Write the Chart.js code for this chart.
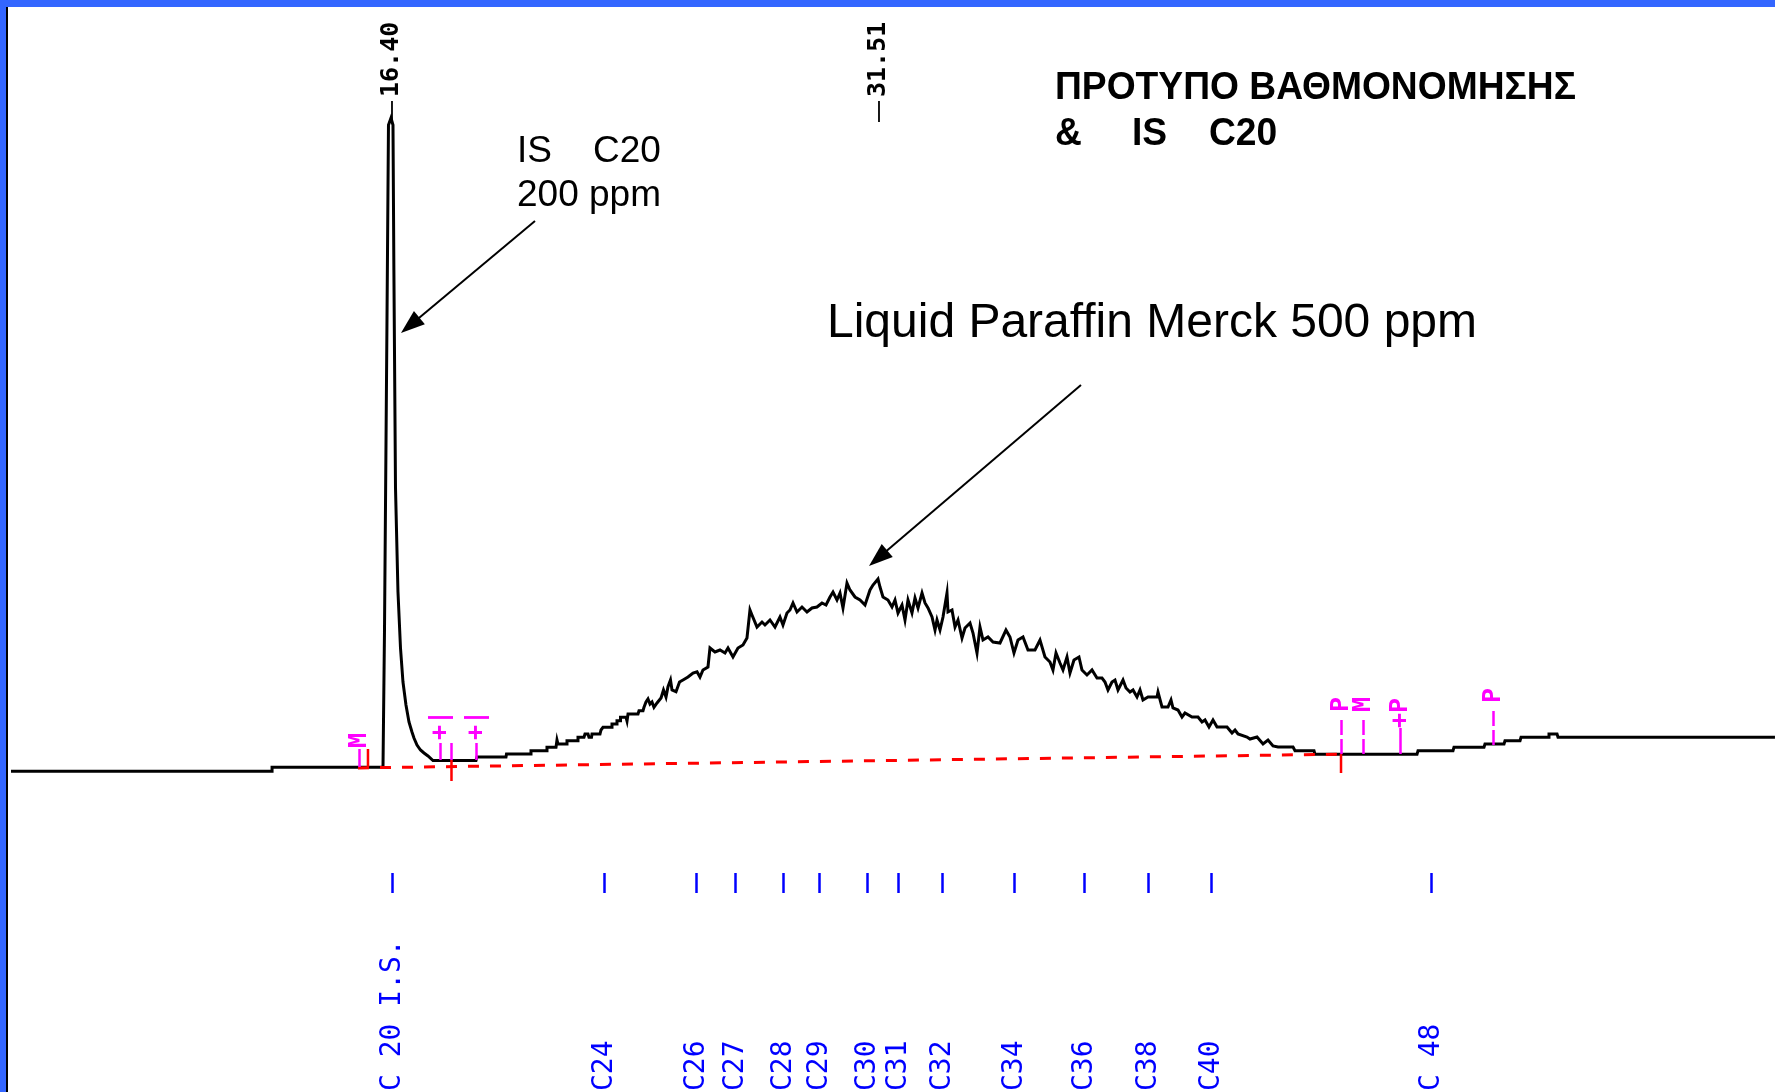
<!DOCTYPE html>
<html>
<head>
<meta charset="utf-8">
<title>Chromatogram – Liquid Paraffin Merck 500 ppm, IS C20</title>
<script src="https://cdn.jsdelivr.net/npm/chart.js@4.4.1/dist/chart.umd.min.js"></script>
<style>
  html, body { margin: 0; padding: 0; background: #ffffff; }
  #wrap { position: relative; width: 1775px; height: 1092px; overflow: hidden; background: #ffffff; }
  #wrap canvas { position: absolute; left: 0; top: 0; }
  .frame-top { position: absolute; left: 0; top: 0; width: 1775px; height: 7px; background: #3366ff; }
  .frame-left { position: absolute; left: 0; top: 0; width: 6px; height: 1092px; background: #3366ff; }
  .frame-rule { position: absolute; left: 6px; top: 7px; width: 2px; height: 1085px; background: #000000; }
</style>
</head>
<body>
<div id="wrap">
  <canvas id="chrom" width="1775" height="1092"></canvas>
  <div class="frame-top"></div>
  <div class="frame-left"></div>
  <div class="frame-rule"></div>
</div>
<script>
// ---- Detector trace (retention time in min, signal in arbitrary units) ----
const traceTime = [
  4.61, 12.71, 12.71, 16.152, 16.198, 16.276, 16.322, 16.400, 16.462, 16.490,
  16.540, 16.617, 16.695, 16.772, 16.865, 16.958, 17.051, 17.113, 17.207, 17.315,
  17.424, 17.548, 17.703, 19.037, 19.068, 19.968, 19.984, 20.728, 20.744, 21.225,
  21.240, 21.520, 21.551, 21.582, 21.845, 21.861, 22.187, 22.202, 22.388, 22.419,
  22.512, 22.543, 22.621, 22.637, 22.885, 22.916, 22.978, 23.242, 23.257, 23.397,
  23.412, 23.506, 23.521, 23.692, 23.723, 23.754, 24.064, 24.095, 24.219, 24.250,
  24.312, 24.374, 24.436, 24.498, 24.560, 24.654, 24.778, 24.855, 24.933, 24.995,
  25.072, 25.119, 25.243, 25.352, 25.460, 25.615, 25.771, 25.895, 25.987, 26.080,
  26.235, 26.297, 26.452, 26.608, 26.763, 26.856, 27.011, 27.166, 27.321, 27.445,
  27.538, 27.600, 27.756, 27.911, 28.004, 28.159, 28.314, 28.469, 28.562, 28.686,
  28.779, 28.873, 28.997, 29.152, 29.307, 29.462, 29.617, 29.773, 29.897, 30.021,
  30.114, 30.238, 30.331, 30.424, 30.548, 30.641, 30.797, 30.952, 31.107, 31.262,
  31.355, 31.510, 31.572, 31.665, 31.820, 31.945, 32.038, 32.131, 32.255, 32.348,
  32.441, 32.565, 32.658, 32.752, 32.876, 32.969, 33.062, 33.186, 33.279, 33.341,
  33.434, 33.527, 33.651, 33.682, 33.806, 33.900, 33.993, 34.117, 34.210, 34.365,
  34.458, 34.582, 34.675, 34.768, 34.923, 35.079, 35.295, 35.481, 35.605, 35.729,
  35.854, 36.009, 36.164, 36.381, 36.536, 36.691, 36.846, 36.939, 37.033, 37.157,
  37.250, 37.374, 37.467, 37.591, 37.746, 37.839, 37.994, 38.150, 38.305, 38.460,
  38.553, 38.646, 38.770, 38.863, 38.957, 39.112, 39.205, 39.329, 39.422, 39.546,
  39.639, 39.732, 39.887, 40.167, 40.198, 40.322, 40.508, 40.601, 40.663, 40.818,
  40.942, 41.035, 41.253, 41.439, 41.563, 41.656, 41.780, 41.904, 42.029, 42.339,
  42.494, 42.587, 42.680, 42.959, 43.052, 43.270, 43.456, 43.611, 43.766, 43.921,
  44.387, 44.449, 45.038, 45.069, 48.234, 48.265, 49.350, 49.381, 50.312, 50.343,
  50.933, 50.964, 51.430, 51.461, 52.298, 52.329, 52.578, 52.609, 59.34
];
const traceSignal = [
  -0.13, -0.13, 0.27, 0.27, 13.8, 45.0, 64.5, 65.2, 64.5, 50.0,
  28.2, 17.8, 12.2, 8.8, 6.5, 4.8, 3.8, 3.2, 2.5, 2.0,
  1.7, 1.4, 0.95, 0.95, 1.3, 1.3, 1.6, 1.6, 1.93, 1.93,
  2.27, 2.27, 3.0, 2.6, 2.6, 2.93, 2.93, 3.27, 3.27, 3.6,
  3.6, 3.27, 3.27, 3.6, 3.6, 4.0, 4.27, 4.27, 4.6, 4.6,
  4.93, 4.93, 5.27, 5.27, 4.9, 5.6, 5.6, 5.93, 5.93, 6.27,
  6.8, 7.1, 6.6, 6.8, 6.27, 6.7, 7.2, 8.0, 7.3, 8.33,
  9.0, 8.0, 7.83, 8.8, 9.0, 9.3, 9.7, 9.83, 9.3, 10.0,
  10.3, 12.2, 11.8, 12.0, 11.7, 12.2, 11.3, 12.2, 12.5, 13.2,
  16.0, 15.5, 14.3, 14.8, 14.5, 15.0, 14.3, 15.3, 14.5, 15.7,
  16.0, 16.7, 15.8, 16.3, 15.8, 16.2, 16.3, 16.7, 16.5, 17.3,
  17.8, 17.0, 17.7, 16.2, 18.7, 18.0, 17.3, 17.0, 16.5, 18.0,
  18.5, 19.1, 18.3, 17.3, 17.0, 16.3, 17.0, 15.7, 16.5, 15.0,
  17.0, 15.7, 17.2, 16.2, 17.7, 16.7, 16.2, 15.3, 14.0, 15.0,
  14.0, 15.3, 17.7, 15.8, 16.0, 14.3, 15.0, 13.2, 14.2, 14.7,
  13.7, 11.7, 14.3, 13.0, 13.3, 12.8, 12.7, 14.0, 13.3, 11.7,
  13.0, 13.3, 12.0, 12.0, 13.0, 11.3, 10.8, 10.0, 11.7, 10.7,
  10.0, 11.3, 9.7, 11.0, 11.3, 10.0, 9.5, 10.0, 9.2, 9.2,
  8.8, 8.0, 8.8, 9.0, 8.0, 9.0, 8.2, 7.8, 8.0, 7.3,
  8.0, 7.0, 7.3, 7.3, 7.8, 6.3, 6.3, 7.0, 6.2, 6.0,
  5.3, 5.7, 5.3, 5.3, 4.8, 5.0, 4.3, 5.0, 4.3, 4.3,
  3.7, 4.0, 3.6, 3.3, 3.1, 3.3, 2.6, 3.0, 2.4, 2.3,
  2.3, 1.93, 1.93, 1.57, 1.57, 1.93, 1.93, 2.27, 2.27, 2.6,
  2.6, 2.93, 2.93, 3.27, 3.27, 3.6, 3.6, 3.27, 3.27
];

// ---- Integration baseline and drop lines ----
const baselineTime = [15.376, 45.876];
const baselineSignal = [0.21, 1.58];
const dropTime = [15.686, 18.277, 45.876];
const dropTop = [2.1, 1.0, 1.6];
const dropBottom = [0.3, -1.1, -0.3];

// ---- Retention time labels ----
const rtTime = [16.40, 31.51];
const rtLabel = ['16.40', '31.51'];

// ---- Integration event codes ----
const eventTime = [15.407, 17.920, 18.277, 19.037, 45.876, 46.559, 47.706, 50.592];
const eventCode = ['M', '+|', '', '+|', 'P', 'M', '+P', 'P'];
const eventLevel = [0.3, 1.0, 1.0, 1.0, 1.6, 1.6, 1.6, 2.5];

// ---- Calibration table (n-alkanes) ----
const compoundTime = [16.44, 23.02, 25.87, 27.08, 28.57, 29.69, 31.17, 32.12, 33.51, 35.74, 37.91, 39.90, 41.83, 48.66];
const compoundName = ['C 20 I.S.', 'C24', 'C26', 'C27', 'C28', 'C29', 'C30', 'C31', 'C32', 'C34', 'C36', 'C38', 'C40', 'C 48'];

// ---- Annotations ----
const titleLines = ['ΠΡΟΤΥΠΟ ΒΑΘΜΟΝΟΜΗΣΗΣ', ['&', 'IS', 'C20']];
const isNote = ['IS    C20', '200 ppm'];
const humpNote = 'Liquid Paraffin Merck 500 ppm';

const tracePoints = traceTime.map((t, i) => ({ x: t, y: traceSignal[i] }));
const baselinePoints = baselineTime.map((t, i) => ({ x: t, y: baselineSignal[i] }));
const dropPoints = [];
dropTime.forEach((t, i) => {
  if (i > 0) dropPoints.push({ x: t, y: null });
  dropPoints.push({ x: t, y: dropTop[i] }, { x: t, y: dropBottom[i] });
});

function rotatedText(ctx, text, x, y, font, color) {
  ctx.save();
  ctx.translate(x, y);
  ctx.rotate(-Math.PI / 2);
  ctx.font = font;
  ctx.fillStyle = color;
  ctx.textAlign = 'left';
  ctx.textBaseline = 'middle';
  ctx.fillText(text, 0, 0);
  ctx.restore();
}

function arrow(ctx, x1, y1, x2, y2, head, half) {
  const a = Math.atan2(y2 - y1, x2 - x1);
  const c = Math.cos(a), s = Math.sin(a);
  ctx.beginPath();
  ctx.moveTo(x1, y1);
  ctx.lineTo(x2 - c * head * 0.7, y2 - s * head * 0.7);
  ctx.stroke();
  ctx.beginPath();
  ctx.moveTo(x2, y2);
  ctx.lineTo(x2 - c * head - s * half, y2 - s * head + c * half);
  ctx.lineTo(x2 - c * head + s * half, y2 - s * head - c * half);
  ctx.closePath();
  ctx.fill();
}

const decorPlugin = {
  id: 'chromDecor',
  afterDatasetsDraw(chart, args, o) {
    const ctx = chart.ctx;
    const xs = chart.scales.x, ys = chart.scales.y;

    // calibration ticks and compound names
    ctx.save();
    ctx.strokeStyle = o.compoundColor;
    ctx.lineWidth = 2.5;
    compoundTime.forEach((t, i) => {
      const px = Math.round(xs.getPixelForValue(t)) + 0.5;
      ctx.beginPath();
      ctx.moveTo(px, o.tickTop);
      ctx.lineTo(px, o.tickBottom);
      ctx.stroke();
      rotatedText(ctx, compoundName[i], px, o.nameBottom, o.compoundFont, o.compoundColor);
    });
    ctx.restore();

    // retention time labels with their tick
    ctx.save();
    ctx.strokeStyle = '#000';
    ctx.lineWidth = 1.8;
    rtTime.forEach((t, i) => {
      const px = xs.getPixelForValue(t) + 1;
      ctx.beginPath();
      ctx.moveTo(px, o.rtTickTop);
      ctx.lineTo(px, o.rtTickBottom);
      ctx.stroke();
      rotatedText(ctx, rtLabel[i], px, o.rtBottom, o.rtFont, '#000');
    });
    ctx.restore();

    // integration event codes
    ctx.save();
    ctx.strokeStyle = o.eventColor;
    ctx.lineWidth = 2.5;
    eventTime.forEach((t, i) => {
      const px = Math.round(xs.getPixelForValue(t)) + 0.5;
      const base = ys.getPixelForValue(eventLevel[i]);
      const top = base - o.eventStem[i];
      ctx.setLineDash(o.eventStem[i] > 30 ? [15, 4] : []);
      ctx.beginPath();
      ctx.moveTo(px, base);
      ctx.lineTo(px, top);
      ctx.stroke();
      if (eventCode[i]) {
        rotatedText(ctx, eventCode[i], px, top - o.eventGap[i], o.eventFont, o.eventColor);
      }
    });
    ctx.restore();

    // arrows
    ctx.save();
    ctx.strokeStyle = '#000';
    ctx.fillStyle = '#000';
    ctx.lineWidth = 2;
    o.arrows.forEach(a => {
      arrow(ctx,
        xs.getPixelForValue(a.from[0]), ys.getPixelForValue(a.from[1]),
        xs.getPixelForValue(a.to[0]), ys.getPixelForValue(a.to[1]), 24, 8.5);
    });
    ctx.restore();

    // peak notes
    ctx.save();
    ctx.fillStyle = '#000';
    ctx.textBaseline = 'alphabetic';
    ctx.textAlign = 'left';
    ctx.font = o.isFont;
    const ix = xs.getPixelForValue(o.isAt[0]);
    ctx.fillText(isNote[0], ix, ys.getPixelForValue(o.isAt[1]));
    ctx.fillText(isNote[1], ix, ys.getPixelForValue(o.isAt[2]));
    ctx.font = o.humpFont;
    const hx = xs.getPixelForValue(o.humpAt[0]), hy = ys.getPixelForValue(o.humpAt[1]);
    const hw = ctx.measureText(humpNote).width;
    ctx.translate(hx, hy);
    ctx.scale(o.humpWidth / hw, 1);
    ctx.fillText(humpNote, 0, 0);
    ctx.restore();

    // title (two lines, bold)
    ctx.save();
    ctx.fillStyle = '#000';
    ctx.font = o.titleFont;
    ctx.textBaseline = 'alphabetic';
    const w1 = ctx.measureText(titleLines[0]).width;
    const sx = o.titleWidth / w1;
    ctx.save();
    ctx.translate(o.titleX, o.titleY[0]);
    ctx.scale(sx, 1);
    ctx.fillText(titleLines[0], 0, 0);
    ctx.restore();
    titleLines[1].forEach((part, k) => {
      ctx.save();
      ctx.translate(o.titleParts[k], o.titleY[1]);
      ctx.scale(sx, 1);
      ctx.fillText(part, 0, 0);
      ctx.restore();
    });
    ctx.restore();
  }
};

new Chart(document.getElementById('chrom'), {
  type: 'line',
  data: {
    datasets: [
      { label: 'Baseline', data: baselinePoints, borderColor: '#ff0000', borderWidth: 3,
        borderDash: [11, 11], pointRadius: 0, order: 0 },
      { label: 'Drop lines', data: dropPoints, borderColor: '#ff0000', borderWidth: 2.5,
        pointRadius: 0, spanGaps: false, order: 1 },
      { label: 'Signal', data: tracePoints, borderColor: '#000000', borderWidth: 3,
        pointRadius: 0, tension: 0, order: 2 }
    ]
  },
  options: {
    responsive: false,
    animation: false,
    events: [],
    layout: { padding: 0 },
    scales: {
      x: { type: 'linear', min: 4.269, max: 59.341, display: false },
      y: { type: 'linear', min: -32.2, max: 77, display: false }
    },
    plugins: {
      legend: { display: false },
      tooltip: { enabled: false },
      chromDecor: {
        compoundColor: '#0000ff',
        compoundFont: '28px "DejaVu Sans Mono", monospace',
        tickTop: 873, tickBottom: 893, nameBottom: 1091,
        rtFont: 'bold 25px "DejaVu Sans Mono", monospace',
        rtBottom: 97, rtTickTop: 101, rtTickBottom: 122,
        eventColor: '#ff00ff',
        eventFont: 'bold 25px "DejaVu Sans Mono", monospace',
        eventStem: [18, 17, 17, 17, 38, 38, 26, 38],
        eventGap: [1, 3, 0, 3, 4, 4, 0, 4],
        arrows: [
          { from: [20.868, 54.9], to: [16.710, 43.7] },
          { from: [37.808, 38.5], to: [31.231, 20.4] }
        ],
        isFont: '37px "Liberation Sans", Arial, sans-serif',
        isAt: [20.309, 60.8, 56.4],
        humpFont: '48px "Liberation Sans", Arial, sans-serif',
        humpAt: [29.928, 43.3], humpWidth: 650,
        titleFont: 'bold 39px "Liberation Sans", Arial, sans-serif',
        titleX: 1055, titleY: [99, 145], titleWidth: 521,
        titleParts: [1055, 1132, 1209]
      }
    }
  },
  plugins: [decorPlugin]
});
</script>
</body>
</html>
